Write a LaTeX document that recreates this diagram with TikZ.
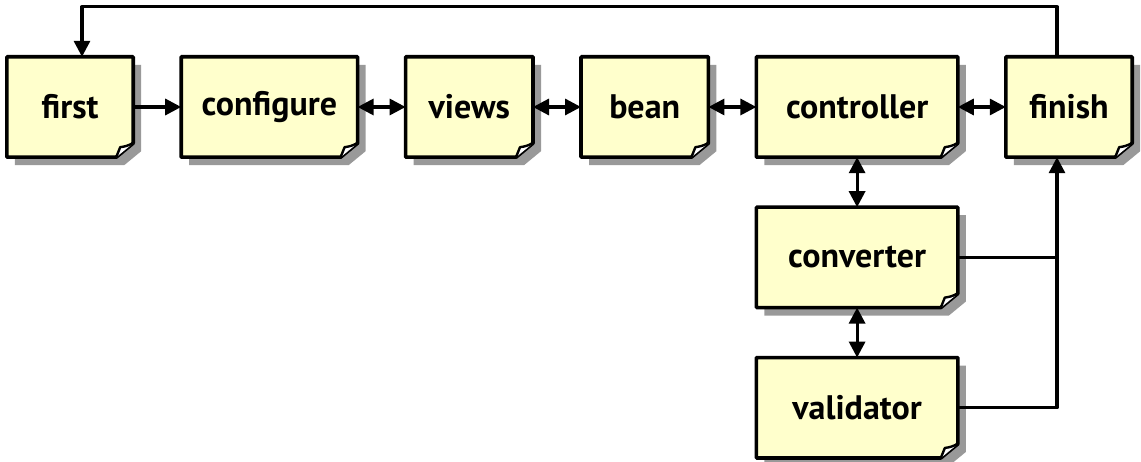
\documentclass[tikz,border=0pt]{standalone}
\usepackage{fontspec}
\setmainfont{PT Sans}
\usetikzlibrary{calc}
\usetikzlibrary{positioning}
\usetikzlibrary{arrows.meta}
\usetikzlibrary{backgrounds}
\definecolor{notefill}{RGB}{255,255,204}
\definecolor{noteshadow}{RGB}{153,153,153}
\tikzstyle{note} = [rectangle, minimum height=100pt, inner sep=0pt,
    font=\bfseries\fontsize{34}{38}\selectfont]
\tikzstyle{line} = [draw, line width=3.2pt, line join=round,
    -{Triangle[length=16pt,width=16pt]}]
\tikzstyle{both} = [line, {Triangle[length=16pt,width=16pt]}-{Triangle[length=16pt,width=16pt]}]

\begin{document}
\begin{tikzpicture}[x=1pt, y=1pt, node distance=48pt]
    \useasboundingbox (0,0) rectangle (1141,461);
    % Place nodes
    \node [note, minimum width=126pt] (first) at (70,354) {first};
    \node [note, minimum width=176pt, right=of first] (configure) {configure};
    \node [note, minimum width=127pt, right=of configure] (views) {views};
    \node [note, minimum width=127pt, right=of views] (bean) {bean};
    \node [note, minimum width=201pt, right=of bean] (controller) {controller};
    \node [note, minimum width=126pt, right=of controller] (finish) {finish};
    \node [note, minimum width=201pt, below=50pt of controller] (converter) {converter};
    \node [note, minimum width=201pt, below=50pt of converter] (validator) {validator};
    \coordinate (fincol) at ([xshift=-12pt]finish.south);
    % Paper notes
    \begin{scope}[on background layer]
    \foreach \n in {first,configure,views,bean,controller,finish,converter,validator} {
        \fill [noteshadow] ($(\n.north west)+(8,-8)$) -- ($(\n.north east)+(8,-8)$)
            -- ($(\n.south east)+(8,6)$) -- ($(\n.south east)+(-9,-8)$)
            -- ($(\n.south west)+(8,-8)$) -- cycle;
        \filldraw [fill=notefill, line width=3.6pt, line join=round]
            (\n.north west) -- (\n.north east) -- ($(\n.south east)+(0,14)$)
            -- ($(\n.south east)+(-17,0)$) -- (\n.south west) -- cycle;
        \filldraw [fill=white, line width=2.4pt, line join=round]
            ($(\n.south east)+(-17,0)$) -- ($(\n.south east)+(-13,10)$)
            .. controls ($(\n.south east)+(-7,11)$) .. ($(\n.south east)+(0,14)$);
    }
    \end{scope}
    % Draw edges
    \path [line] (first) -- (configure);
    \path [both] (configure) -- (views);
    \path [both] (views) -- (bean);
    \path [both] (bean) -- (controller);
    \path [both] (controller) -- (finish);
    \path [both] (controller) -- (converter);
    \path [both] (converter) -- (validator);
    \path [line] ([xshift=-12pt]finish.north) -- ++(0,50) -| ([xshift=12pt]first.north);
    \path [line] (validator.east) -| (fincol);
    \draw [line width=3.2pt] (converter.east) -- (converter.east -| fincol);
\end{tikzpicture}
\end{document}
